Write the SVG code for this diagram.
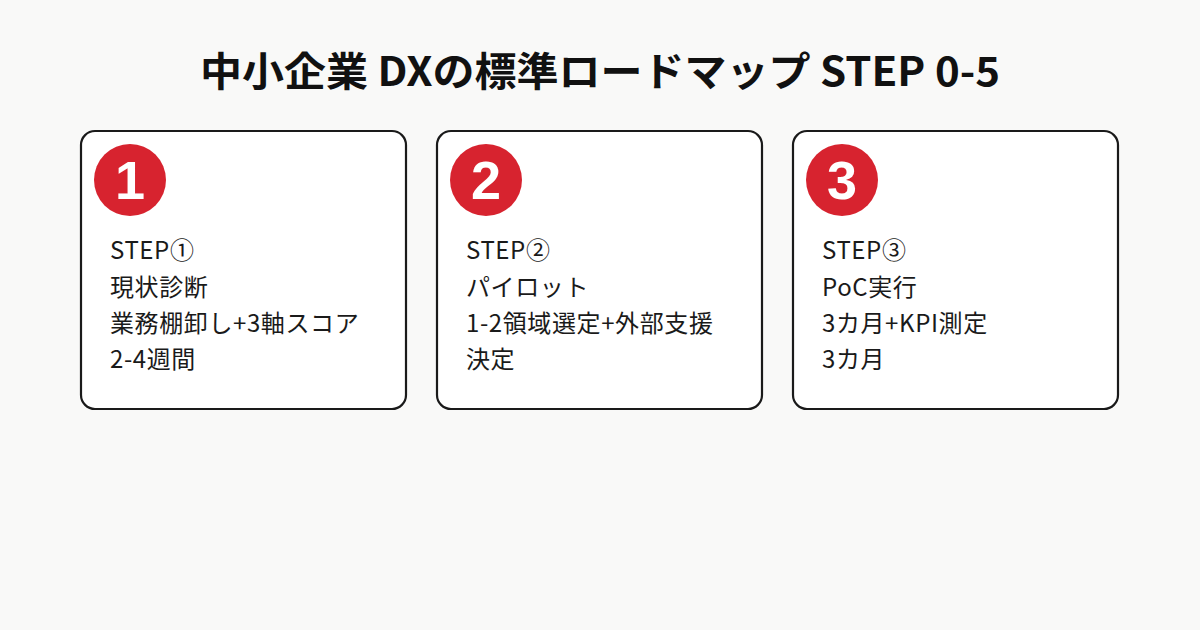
<svg xmlns="http://www.w3.org/2000/svg" width="1200" height="630" viewBox="0 0 1200 630">
<style>
.card{fill:#fff;stroke:#1a1a1a;stroke-width:2.2}
.badge{fill:#d7232f}
.num{font-family:"Liberation Sans","Noto Sans CJK JP",sans-serif;font-weight:bold;font-size:54px;fill:#fff;text-anchor:middle}
.t{font-family:"Noto Sans CJK JP",sans-serif;font-size:24px;letter-spacing:0.6px;fill:#1a1a1a}
.title{font-family:"Noto Sans CJK JP",sans-serif;font-weight:bold;font-size:40px;fill:#111;text-anchor:middle}
</style>
<rect width="1200" height="630" fill="#f9f9f8"/>
<text class="title" x="600" y="86" textLength="800" lengthAdjust="spacingAndGlyphs">中小企業 DXの標準ロードマップ STEP 0-5</text>
<g id="step1">
<rect class="card" x="81" y="131" width="325" height="278" rx="14"/>
<circle class="badge" cx="130" cy="180" r="36"/>
<text class="num" x="130" y="199">1</text>
<text class="t" x="110" y="259">STEP①</text>
<text class="t" x="110" y="296">現状診断</text>
<text class="t" x="110" y="332">業務棚卸し+3軸スコア</text>
<text class="t" x="110" y="368">2-4週間</text>
</g>
<g id="step2">
<rect class="card" x="437" y="131" width="325" height="278" rx="14"/>
<circle class="badge" cx="486" cy="180" r="36"/>
<text class="num" x="486" y="199">2</text>
<text class="t" x="466" y="259">STEP②</text>
<text class="t" x="466" y="296">パイロット</text>
<text class="t" x="466" y="332">1-2領域選定+外部支援</text>
<text class="t" x="466" y="368">決定</text>
</g>
<g id="step3">
<rect class="card" x="793" y="131" width="325" height="278" rx="14"/>
<circle class="badge" cx="842" cy="180" r="36"/>
<text class="num" x="842" y="199">3</text>
<text class="t" x="822" y="259">STEP③</text>
<text class="t" x="822" y="296">PoC実行</text>
<text class="t" x="822" y="332">3カ月+KPI測定</text>
<text class="t" x="822" y="368">3カ月</text>
</g>
<g id="connectors"/>
</svg>
